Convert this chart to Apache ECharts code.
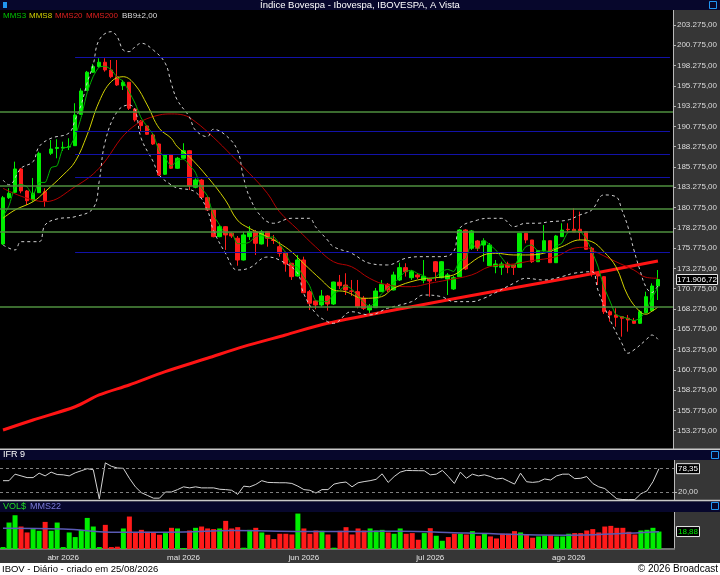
<!DOCTYPE html>
<html><head><meta charset="utf-8">
<script src="https://cdn.jsdelivr.net/npm/echarts@6/dist/echarts.min.js"></script>
<style>html,body{margin:0;padding:0;background:#fff}#c{width:720px;height:575px}</style>
</head><body><div id="c"></div>
<script>
// ---------- data ----------
const startDay = '2026-03-18';
const holidays = ['2026-04-03','2026-04-21','2026-05-01','2026-06-04'];
const nDays = 110;
const monthNames = ['jan','fev','mar','abr','mai','jun','jul','ago','set','out','nov','dez'];

const openP = [176290,181990,182660,185530,182820,181710,182610,182730,187460,188060,
188100,188240,188400,192270,195230,197450,198140,198680,197730,196900,
195790,196210,192920,191440,190830,189720,188610,184880,187250,185620,
186850,187780,183270,184170,181990,180480,177190,178420,177600,176990,
174310,177190,177800,176290,177800,176780,175950,175140,173910,172340,
174310,170410,169260,168770,169880,168890,171570,171230,170500,170410,
169590,168150,168440,170410,171320,170620,171850,173370,172130,172470,
171810,172060,174100,172130,171970,170740,172260,178010,175760,176660,
176160,173610,173490,173410,173820,173700,173410,177600,176780,174100,
175460,176690,173980,177190,178100,178100,178100,177800,175760,172680,
172260,167940,167540,167330,167130,166830,166510,167820,168070,171110];
const closeP = [181990,182530,185530,182820,181620,182530,187460,181620,187990,188180,
188200,188280,192180,195140,197450,198140,198680,197730,196900,195880,
196210,193010,191570,190870,189810,188610,184790,187250,185620,186850,
187780,183430,184170,182040,180480,177190,178420,177400,177270,174310,
177400,177800,176370,177800,176990,176720,175140,173820,172260,174310,
170280,168980,168770,169880,168890,171600,171150,170620,170450,168560,
168360,168650,170490,171320,170620,172470,173370,172870,172870,172220,
172300,171730,172870,174100,172470,172130,178010,173210,177890,175760,
176660,176160,173820,173820,173410,173400,177600,176780,174100,175460,
176690,173980,177270,178000,178050,177760,177700,175630,172750,172340,
167940,167540,167250,167130,166920,166510,167940,169790,171110,171906.72];
const highP = [182200,183150,186430,185650,182940,184420,187660,183150,189100,189190,
188890,189310,193630,195470,197610,198470,199170,199170,198960,198960,
196500,196250,193010,191570,190950,189930,188700,187380,187380,187010,
188700,187870,184380,184300,182120,180480,178630,178500,177760,177270,
177800,178500,178010,178010,177890,177400,176570,175340,173940,174930,
174720,170620,169380,170620,170000,171640,172470,172680,171850,171850,
169880,168890,170860,171850,171480,172870,173980,173910,173080,172710,
174310,172100,174190,174190,172710,172340,178130,178130,178010,176780,
176990,176410,174310,174100,174100,173700,177640,177600,176780,175550,
178630,176720,177400,178840,178840,180690,180270,177890,175920,172750,
172340,168150,168360,167410,167540,167170,168150,170410,171440,173080];
const lowP = [176160,181830,182570,182530,181090,181500,182570,180880,187250,186850,
187750,187870,188360,192180,195140,197360,198040,197520,196710,195760,
195260,192800,191360,190130,189720,188490,184700,184790,185530,185530,
186720,182940,183150,181920,180350,177110,177110,175550,177020,173610,
174250,176780,174930,176220,175950,176290,174720,172870,171850,172260,
170210,168150,168240,168560,168070,168770,170740,170000,169880,168360,
168150,167750,168400,170370,170370,170560,171730,172260,171850,171970,
171440,169790,171730,172060,170000,170620,172220,173080,175550,175420,
174100,173570,172680,172470,172680,172470,173390,176370,173940,174070,
175340,173940,173940,177150,177760,177760,176780,175550,172260,171230,
167660,166710,166090,164860,165480,166430,166430,167750,167940,169380];

const mms3 = [179700,181000,183350,183630,183320,182320,183870,183870,185690,185930,
188120,188220,189550,191870,194920,196910,198090,198180,197770,196840,
196330,195030,193600,191810,190750,189760,187730,186880,185890,186570,
186750,186020,185130,183220,182230,179900,178690,177670,177690,176330,
176330,176500,177190,177320,177050,177170,176280,175230,173740,173460,
172280,171190,169340,169210,169180,170120,170550,171120,170740,169880,
169120,168520,169170,170150,170810,171470,172150,172900,173040,172650,
172380,172000,172220,172900,173150,172900,174200,174450,176370,175620,
176770,176190,175550,174600,173690,173560,174820,175950,176160,175450,
175420,175380,175980,176380,177710,177870,177820,177050,175380,173570,
171010,169270,167580,167310,167100,166850,167120,168080,169610,170940];

const mms8Pts = [[0,179450],[2,180480],[5,181500],[7,182730],[10,184790],[12,186430],[14,189720],[16,193820],[18,196290],[20,196900],[22,195880],[24,193420],[26,190540],[28,189310],[29,188280],[31,187040],[34,184580],[37,181710],[39,179240],[41,178220],[44,177190],[46,176370],[48,175340],[50,173910],[53,171850],[55,170620],[57,170410],[60,169590],[63,169790],[65,170830],[69,171850],[72,172130],[75,172470],[77,173490],[80,174930],[82,175140],[85,174930],[87,174930],[90,175140],[93,175950],[96,176780],[98,176570],[100,175340],[102,173490],[104,169900],[106,167950],[107,167630],[108,168000],[109,168500]];
const mms20Pts = [[0,183150],[7,181500],[12,183350],[16,185620],[21,190340],[26,192180],[28,192310],[30,192180],[32,191360],[35,189440],[38,187250],[41,185000],[44,182530],[46,180270],[49,178100],[52,175950],[55,174100],[58,173490],[61,172060],[64,171230],[68,171020],[71,171440],[74,171850],[78,172470],[81,173490],[85,173820],[88,174230],[92,174720],[95,175760],[97,175880],[98,175550],[102,174100],[105,173080],[107,172180],[109,172060]];
const bbUpPts = [[0,184170],[1,183560],[3,185620],[5,186430],[6,188280],[8,189310],[11,189970],[12,191570],[13,193420],[14,196130],[15,198350],[16,201430],[18,202450],[19,201830],[20,200190],[21,199990],[22,200600],[23,201020],[25,200190],[27,198560],[28,196090],[29,194030],[31,191970],[32,190340],[34,189510],[35,190420],[37,189720],[39,187870],[40,184580],[41,182120],[43,179650],[45,178840],[48,179450],[51,179450],[52,178420],[54,176780],[55,175950],[58,175140],[61,173910],[64,173700],[67,174520],[70,174720],[73,174720],[75,175340],[76,178220],[79,179240],[81,179450],[83,179450],[85,178420],[87,178840],[89,178840],[91,179030],[94,179240],[96,179860],[98,180480],[100,182330],[102,182120],[103,180480],[104,178420],[105,175550],[106,173080],[107,171000],[108,170300],[109,171200]];
const bbLowPts = [[0,176160],[2,175550],[3,176570],[6,176570],[7,178630],[9,179370],[12,179650],[15,180690],[16,183960],[17,188890],[19,192590],[21,193420],[22,192800],[23,189310],[25,186430],[26,184790],[28,183560],[29,183190],[32,182690],[34,180480],[35,178010],[37,175180],[39,173080],[41,173330],[44,174680],[46,174310],[49,172710],[50,170250],[52,167780],[54,166710],[55,166510],[58,167940],[61,167540],[64,168360],[68,169180],[70,170000],[73,169790],[75,169180],[78,169180],[80,169590],[82,170300],[85,171440],[87,172060],[90,171850],[93,172260],[95,172680],[98,172870],[99,170620],[101,166980],[103,164050],[104,162820],[105,163220],[107,164450],[108,165070],[109,164540]];
const mms200Pts = [[0,153360],[5,154600],[12,156230],[16,157680],[21,158910],[27,160550],[34,162200],[40,163630],[47,165070],[54,166510],[68,168560],[83,170620],[96,172340],[109,174190]];

const greenLevels = [192615,183433,180623,177825,168607];
const blueLevels = [199280,190125,187315,184518,175298];
const blueStartIdx = 12;

const rsi = [48.3,48.3,64.6,60.3,56,56,67.1,60.3,69.7,63.7,
62.9,60.3,68,73.1,78.3,75.7,2.9,92.9,84.3,80,
79.1,54.3,32.9,18.3,11.4,4.6,4.6,20,20,26,
32.9,30.3,32.9,30.3,30.3,30.3,26.9,26,24.3,14,
34.6,32.9,38.9,48.3,44,43.5,43.1,43.1,41.4,34.6,
26,24.3,17.4,26,26,39.7,43.1,44.9,32.9,43.1,
46,48.3,51.7,65.4,44,58.6,69.7,74,73.5,73.3,
73.1,62.9,64.6,74,58.6,41.4,69.7,54.3,64.6,60.3,
62.9,58.6,52.6,54.3,47,39.7,67.1,45.7,44,45.7,
52.6,50,60.3,64.6,64.6,53.4,54.3,58.6,41.4,32.9,
28.6,15.7,2.9,1.1,1.1,1.1,15.7,22.6,45.7,78.35];
const rsiLevels = [80,20];

const vol = [2.1,28.6,36.5,24.3,17.9,21.5,19.7,29.3,19.7,28.6,
2.1,17.9,12.9,20.7,33.6,24.3,2.1,26.1,2.1,2.5,
22.2,35.1,17.9,20.7,18.6,17.9,15.4,17.2,22.9,22.2,
1.1,20.0,22.9,24.3,22.2,21.5,22.2,30.4,22.2,23.6,
1.4,20.7,22.9,17.9,15.4,10.7,16.5,16.5,15.7,38.3,
22.2,16.5,20.0,19.7,15.7,1.4,19.7,23.6,15.7,22.2,
20.0,22.2,20.0,20.7,17.9,16.5,22.2,16.5,17.2,10.0,
17.2,22.5,14.3,8.9,12.9,16.5,16.5,15.7,19.3,14.3,
16.5,13.6,11.4,16.5,16.5,19.3,17.9,15.7,12.2,13.6,
14.7,15.0,13.6,13.6,16.5,17.2,17.2,20.0,21.5,17.9,
24.3,25.0,22.9,22.9,18.6,15.7,20.0,20.7,22.9,18.88];
const mms22Pts = [[0,22.5],[10,21.5],[19,18.0],[30,18.5],[38,20.0],[50,19.0],[60,19.0],[66,19.3],[77,17.2],[94,15.0],[102,16.5],[109,18.6]];

const priceTicks = [153275,155775,158275,160775,163275,165775,168275,170775,173275,175775,178275,180775,183275,185775,188275,190775,193275,195775,198275,200775,203275];
const rsiTicks = [20];

// ---------- helpers ----------
function tradingDays(){
  const out=[]; const d=new Date(startDay+'T12:00:00Z');
  while(out.length<nDays){
    const dow=d.getUTCDay(); const s=d.toISOString().slice(0,10);
    if(dow!==0 && dow!==6 && holidays.indexOf(s)<0) out.push(s);
    d.setUTCDate(d.getUTCDate()+1);
  }
  return out;
}
const dates = tradingDays();
const cats = dates.concat(['pad1','pad2']);
function isMonthStart(i){ return i>0 && i<nDays && dates[i].slice(5,7)!==dates[i-1].slice(5,7); }
function monthLabel(i){ const d=dates[i]; return monthNames[+d.slice(5,7)-1]+' '+d.slice(0,4); }
function fmtBR(v,d){ const s=Number(v).toFixed(d); const parts=s.split('.'); const ip=parts[0].replace(/\B(?=(\d{3})+(?!\d))/g,'.'); return parts[1]?ip+','+parts[1]:ip; }

const FONT = "'Liberation Sans', Arial, sans-serif";
const UP='#00ee00', DN='#ff1a1a';
const AXW = 674;

const candleData = dates.map((_,i)=>[openP[i], closeP[i], lowP[i], highP[i]]);
const volData = vol.map((v,i)=>{
  const up = i===0 ? closeP[i]>=openP[i] : closeP[i]>closeP[i-1];
  return {value:v, itemStyle:{color: up?UP:DN}};
});

const srMarks = greenLevels.map(v=>({yAxis:v, lineStyle:{color:'#4f8f3f', width:1.5, type:'solid'}}))
  .concat(blueLevels.map(v=>[{coord:[blueStartIdx, v], lineStyle:{color:'#1212a8', width:1.2, type:'solid'}},{coord:[cats.length-1, v]}]));

function lineS(data, color, width, extra){
  return Object.assign({type:'line', xAxisIndex:0, yAxisIndex:0, data:data, showSymbol:false, symbol:'none',
    lineStyle:{color:color, width:width}, itemStyle:{color:color}, silent:true, animation:false, z:3}, extra||{});
}

const chart = echarts.init(document.getElementById('c'));
const option = {
  animation:false,
  backgroundColor:'#363636',
  grid:[
    {left:0, top:10, width:AXW, height:439, show:true, backgroundColor:'#000', borderWidth:0},
    {left:0, top:460, width:AXW, height:40, show:true, backgroundColor:'#000', borderWidth:0},
    {left:0, top:512, width:AXW, height:37, show:true, backgroundColor:'#000', borderWidth:0}
  ],
  xAxis:[
    {type:'category', gridIndex:0, data:cats, show:false},
    {type:'category', gridIndex:1, data:cats, show:false},
    {type:'category', gridIndex:2, data:cats,
      axisLine:{lineStyle:{color:'#707070', width:2}},
      axisTick:{alignWithLabel:true, interval:(i)=>isMonthStart(i), length:3, lineStyle:{color:'#e8e8e8'}},
      axisLabel:{interval:(i)=>isMonthStart(i), formatter:(v,i)=>monthLabel(i), color:'#e6e6e6', fontSize:8, fontFamily:FONT, margin:5},
      splitLine:{show:false}}
  ],
  yAxis:[
    {type:'value', gridIndex:0, position:'right', min:151020, max:205120, splitLine:{show:false},
      axisLine:{show:true, lineStyle:{color:'#b8b8b8'}},
      axisTick:{show:true, length:3, customValues:priceTicks, lineStyle:{color:'#b8b8b8'}},
      axisLabel:{customValues:priceTicks, formatter:(v)=>fmtBR(v,2), color:'#dcdcdc', fontSize:8, fontFamily:FONT, margin:4}},
    {type:'value', gridIndex:1, position:'right', min:0, max:100, splitLine:{show:false},
      axisLine:{show:true, lineStyle:{color:'#b8b8b8'}},
      axisTick:{show:true, length:3, customValues:rsiTicks, lineStyle:{color:'#b8b8b8'}},
      axisLabel:{customValues:rsiTicks, formatter:(v)=>fmtBR(v,2), color:'#dcdcdc', fontSize:8, fontFamily:FONT, margin:4}},
    {type:'value', gridIndex:2, position:'right', min:0, max:40, splitLine:{show:false},
      axisLine:{show:true, lineStyle:{color:'#b8b8b8'}}, axisTick:{show:false}, axisLabel:{show:false}}
  ],
  series:[
    {type:'line', xAxisIndex:0, yAxisIndex:0, data:dates.map(()=>null), symbol:'none', silent:true, z:1,
      markLine:{symbol:['none','none'], silent:true, animation:false, label:{show:false}, data:srMarks}},
    {type:'candlestick', xAxisIndex:0, yAxisIndex:0, data:candleData, barWidth:4, z:2,
      itemStyle:{color:UP, color0:DN, borderColor:UP, borderColor0:DN, borderWidth:1}},
    lineS(mms200Pts, '#ff1414', 3, {smooth:0.3}),
    lineS(mms20Pts, '#b40000', 1, {smooth:0.4}),
    lineS(bbUpPts, '#d0d0d0', 1, {smooth:0.4, lineStyle:{color:'#d0d0d0', width:1, type:[3,3]}}),
    lineS(bbLowPts, '#d0d0d0', 1, {smooth:0.4, lineStyle:{color:'#d0d0d0', width:1, type:[3,3]}}),
    lineS(mms8Pts, '#d2d200', 1, {smooth:0.4}),
    lineS(mms3, '#00b400', 1, {smooth:0.2}),
    {type:'line', xAxisIndex:1, yAxisIndex:1, data:rsi, showSymbol:false, symbol:'none', silent:true,
      lineStyle:{color:'#d4d4d4', width:1},
      markLine:{symbol:['none','none'], silent:true, label:{show:false},
        data:rsiLevels.map(v=>({yAxis:v})), lineStyle:{color:'#808080', width:1, type:[3,3]}}},
    {type:'bar', xAxisIndex:2, yAxisIndex:2, data:volData, barWidth:5, silent:true},
    {type:'line', xAxisIndex:2, yAxisIndex:2, data:mms22Pts, showSymbol:false, symbol:'none', smooth:0.4, silent:true,
      lineStyle:{color:'#5a5ab4', width:1.5}, z:4}
  ]
};
chart.setOption(option);

function txt(x,y,t,color,size,align,extra){
  return Object.assign({type:'text', silent:true, z:100, style:{x:x, y:y, text:t, fill:color, font:size+'px '+FONT,
    textAlign:align||'left', textVerticalAlign:'middle', align:align||'left', verticalAlign:'middle'}}, extra||{});
}
function rect(x,y,w,h,fill,stroke,z){
  return {type:'rect', silent:true, z:z||50, shape:{x:x,y:y,width:w,height:h}, style:{fill:fill, stroke:stroke||null, lineWidth:1}};
}
function valueBox(yPix, label, color){
  return [rect(676.5, yPix-5, 41, 10, '#000', '#e8e8e8', 90), txt(697, yPix, label, color, 8, 'center')];
}
function smallBox(yPix, label, color){
  return [rect(676.5, yPix-5, 23, 10, '#000', '#e8e8e8', 90), txt(688, yPix, label, color, 8, 'center')];
}

const lastClose = closeP[nDays-1], lastRsi = rsi[nDays-1], lastVol = vol[nDays-1];
const yPrice = chart.convertToPixel({yAxisIndex:0}, lastClose);
const yRsi = chart.convertToPixel({yAxisIndex:1}, lastRsi);
const yVol = chart.convertToPixel({yAxisIndex:2}, lastVol);

const NAVY='#07072c', ICON='#2196f3';
const g = [
  rect(0,0,720,10,NAVY,null,50),
  txt(360,5.5,'Índice Bovespa - Ibovespa, IBOVESPA, A Vista','#ffffff',9.5,'center'),
  rect(3,2,4,6,ICON,null,60),
  rect(709.5,1.5,7,7,null,ICON,60),
  txt(3,15.5,'MMS3','#00c800',8,'left'),
  txt(29,15.5,'MMS8','#d2d200',8,'left'),
  txt(55,15.5,'MMS20','#e02020',8,'left'),
  txt(86,15.5,'MMS200','#e02020',8,'left'),
  txt(122,15.5,'BB9±2,00','#dddddd',8,'left'),
  rect(0,448.5,720,1.5,'#c8c8c8',null,55),
  rect(0,450,720,10,NAVY,null,50),
  txt(3,455,'IFR 9','#ffffff',9,'left'),
  rect(711.5,451.5,7,7,null,ICON,60),
  rect(0,499.8,720,1.5,'#c8c8c8',null,55),
  rect(0,501.3,720,10.7,NAVY,null,50),
  txt(3,506.5,'VOL$','#22dd22',9,'left'),
  txt(30,506.5,'MMS22','#7a7ad8',9,'left'),
  rect(711.5,502.5,7,7,null,ICON,60),
  rect(0,563,720,12,'#ffffff',null,50),
  txt(2,569,'IBOV - Diário - criado em 25/08/2026','#000000',9.5,'left'),
  txt(718,569,'© 2026 Broadcast','#000000',10,'right')
].concat(valueBox(yPrice, fmtBR(lastClose,2), '#ffffff'))
 .concat(smallBox(yRsi, fmtBR(lastRsi,2), '#ffffff'))
 .concat(smallBox(yVol, fmtBR(lastVol,2), '#00ee00'));

chart.setOption({graphic:g});
</script></body></html>
